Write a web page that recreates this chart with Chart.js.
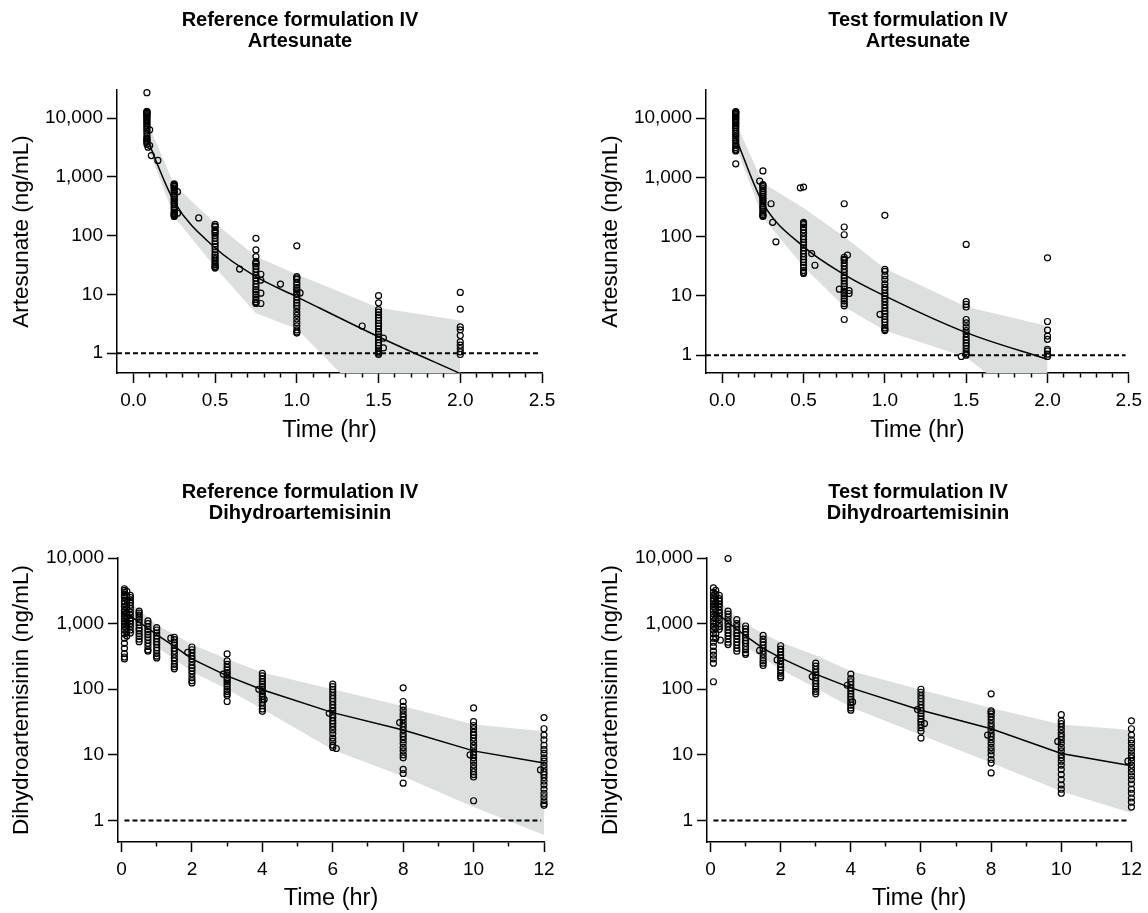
<!DOCTYPE html>
<html>
<head>
<meta charset="utf-8">
<script src="https://cdn.jsdelivr.net/npm/chart.js@4.4.1/dist/chart.umd.min.js"></script>
<style>
  html, body { margin: 0; padding: 0; background: #fff; overflow: hidden; }
  #page { position: relative; width: 1148px; height: 913px; }
  canvas { position: absolute; }
</style>
</head>
<body>
<div id="page">
  <canvas id="refArt" width="574" height="456" style="left:0;top:0"></canvas>
  <canvas id="testArt" width="559" height="456" style="left:589px;top:0"></canvas>
  <canvas id="refDha" width="574" height="457" style="left:0;top:456px"></canvas>
  <canvas id="testDha" width="559" height="457" style="left:589px;top:456px"></canvas>
</div>
<script>
// ---- tick labels ----
const yTickValues = [1, 10, 100, 1000, 10000];
const yTickLabels = ['1', '10', '100', '1,000', '10,000'];
const artXLabelValues = [0, 0.5, 1, 1.5, 2, 2.5];
const artXLabels = ['0.0', '0.5', '1.0', '1.5', '2.0', '2.5'];
const dhaXLabelValues = [0, 2, 4, 6, 8, 10, 12];
const dhaXLabels = ['0', '2', '4', '6', '8', '10', '12'];

const lloq = 1;

// ---- artesunate: simulated median and 90% prediction band ----
const artTimes = [0.083, 0.25, 0.5, 0.75, 1.0, 1.5, 2.0];
const refArtMedian = [4500, 380, 62, 20, 9.1, 1.9, 0.45];
const refArtUpper = [9000, 730, 162, 44, 22, 5.9, 3.6];
const refArtLower = [3500, 210, 29, 4.8, 2.6, 0.1, 0.03];
const testArtMedian = [4700, 370, 68, 23, 10, 2.4, 0.85];
const testArtUpper = [8500, 810, 305, 100, 29, 6.6, 3.1];
const testArtLower = [3400, 210, 31, 6.6, 2.6, 0.92, 0.08];

// ---- dihydroartemisinin: simulated median and 90% prediction band ----
const dhaTimes = [0.083, 0.25, 0.5, 0.75, 1, 1.5, 2, 3, 4, 6, 8, 10, 12];
const refDhaMedian = [1450, 1300, 1050, 850, 680, 450, 290, 160, 98, 44, 24, 11.5, 7.5];
const refDhaUpper = [2600, 2200, 1600, 1250, 950, 680, 480, 290, 180, 100, 55, 29, 23];
const refDhaLower = [700, 800, 650, 520, 440, 290, 185, 100, 50, 12, 4.7, 1.6, 0.6];
const testDhaMedian = [1500, 1350, 1050, 820, 650, 420, 300, 170, 105, 48, 25, 10.5, 6.8];
const testDhaUpper = [2600, 2300, 1650, 1250, 1000, 700, 520, 330, 190, 98, 52, 29, 24];
const testDhaLower = [800, 850, 700, 560, 450, 300, 200, 104, 53, 20, 7.6, 2.8, 1.3];

// ---- observed concentrations: [time, [values]] ----
const refArtObs = [
  [0.083, [27000, 13000, 12800, 12500, 12200, 12000, 11500, 11000, 10500, 10000, 9500, 9000, 8500, 8000, 7500, 7000, 6500, 6000, 5500, 5000, 4600, 4400, 4200, 4000, 3900, 3600]],
  [0.09, [3200]], [0.1, [3400, 6300]], [0.11, [2300]], [0.15, [1900]],
  [0.25, [760, 740, 720, 700, 680, 640, 600, 560, 520, 480, 450, 420, 390, 360, 340, 310, 290, 270, 250, 240, 235, 225, 220, 212]],
  [0.27, [560, 240]], [0.4, [200]],
  [0.5, [155, 145, 140, 125, 118, 110, 100, 90, 80, 72, 65, 58, 52, 47, 43, 40, 37, 34, 32, 30, 29, 28]],
  [0.65, [27]],
  [0.75, [90, 57, 44, 36, 34, 33, 30, 27, 24, 21, 19, 17, 15, 13.5, 12, 11, 10, 9, 8.2, 7.5, 7.2, 7]],
  [0.78, [22, 17.5, 10.5, 7]],
  [0.9, [15]],
  [1.0, [67, 20, 19, 18, 16, 14.5, 13, 12, 11, 10, 9, 8, 7.2, 6.5, 5.8, 5, 4.4, 3.8, 3.3, 2.9, 2.5, 2.3, 2.2]],
  [1.02, [10.6]],
  [1.4, [2.9]],
  [1.5, [9.5, 7.2, 5.5, 5, 4.5, 4, 3.6, 3.2, 2.9, 2.6, 2.3, 2.1, 1.9, 1.7, 1.5, 1.35, 1.2, 1.1, 1.05, 1.0, 0.95]],
  [1.53, [1.8, 1.23]],
  [2.0, [10.8, 5.6, 2.8, 2.5, 2.0, 1.56, 1.37, 1.2, 1.05, 0.95]]
];

const testArtObs = [
  [0.083, [13000, 12700, 12500, 12000, 11500, 11000, 10500, 10000, 9500, 9000, 8500, 8000, 7500, 7000, 6500, 6000, 5500, 5000, 4600, 4200, 3800, 3500, 3200, 3000, 2900, 2800, 1700]],
  [0.23, [870]],
  [0.25, [1290, 760, 740, 700, 650, 600, 560, 520, 480, 450, 420, 390, 360, 330, 310, 290, 270, 250, 235, 225, 220]],
  [0.3, [360]], [0.31, [175]], [0.33, [82]],
  [0.48, [670]],
  [0.5, [690, 175, 168, 160, 145, 130, 115, 100, 90, 80, 72, 65, 58, 52, 46, 41, 37, 33, 30, 27, 25, 24]],
  [0.55, [52]], [0.57, [33]],
  [0.72, [13]],
  [0.75, [360, 146, 108, 45, 42, 40, 36, 32, 28, 25, 22, 20, 18, 16, 14.5, 13, 12, 11, 10, 9, 8.2, 7.4, 6.8, 4.0]],
  [0.77, [49]], [0.78, [12.3, 11]],
  [0.97, [4.9]],
  [1.0, [230, 28, 26, 22, 19, 16, 14, 12.5, 11, 10, 9, 8, 7, 6.2, 5.5, 5, 4.5, 4, 3.6, 3.2, 2.9, 2.7, 2.6]],
  [1.47, [0.95]],
  [1.5, [74, 8.0, 7.2, 6.5, 4.0, 3.5, 3.0, 2.6, 2.3, 2.0, 1.8, 1.6, 1.45, 1.3, 1.15, 1.05, 1.0]],
  [2.0, [44, 3.7, 2.65, 2.1, 1.85, 1.26, 1.18, 1.04, 0.95]]
];

const refDhaObs = [
  [0.083, [3400, 3200, 3000, 2700, 2500, 2200, 2000, 1800, 1600, 1500, 1400, 1300, 1200, 1100, 1000, 900, 800, 700, 600, 500, 420, 350, 310, 290]],
  [0.15, [3100, 2600, 2300, 1900, 1700, 1450, 1250, 1050, 950, 850, 750, 650]],
  [0.25, [2700, 2500, 2300, 2100, 1900, 1700, 1500, 1350, 1200, 1100, 1000, 900, 800, 720]],
  [0.5, [1550, 1450, 1350, 1250, 1150, 1050, 950, 850, 780, 700, 640, 580, 530]],
  [0.75, [1100, 1000, 900, 820, 750, 680, 620, 560, 500, 450, 400, 380]],
  [1.0, [870, 800, 720, 650, 590, 530, 480, 430, 390, 350, 320, 300]],
  [1.4, [600]],
  [1.5, [620, 570, 520, 470, 420, 380, 340, 300, 270, 240, 220, 205]],
  [1.88, [365]],
  [2.0, [440, 400, 360, 320, 290, 260, 230, 210, 190, 170, 150, 135, 125]],
  [2.89, [170]],
  [3.0, [345, 270, 240, 215, 195, 180, 165, 150, 140, 130, 120, 110, 100, 92, 85, 80, 65]],
  [3.9, [100]],
  [4.0, [175, 160, 145, 130, 120, 110, 100, 92, 85, 78, 70, 63, 56, 50, 46]],
  [4.05, [70]],
  [5.9, [43]],
  [6.0, [120, 110, 100, 90, 80, 72, 65, 58, 52, 46, 41, 37, 33, 30, 27, 24, 21, 18, 16, 14, 13]],
  [6.1, [12.5]],
  [7.9, [31]],
  [8.0, [105, 65, 55, 48, 42, 38, 34, 30, 27, 24, 21, 19, 17, 15, 13, 11.5, 10, 9, 6, 5.2, 3.7]],
  [9.9, [10]],
  [10.0, [52, 32, 28, 25, 22, 20, 18, 16, 14, 12.5, 11, 10, 9, 8, 7, 6.2, 5.5, 5, 4.6, 2.0]],
  [11.9, [5.9]],
  [12.0, [37, 25, 20, 17, 14, 12, 10.5, 9, 8, 7, 6.2, 5.5, 5, 4.5, 4, 3.5, 3, 2.6, 2.3, 2, 1.8, 1.7]]
];

const testDhaObs = [
  [0.083, [3500, 3000, 2700, 2400, 2200, 2000, 1800, 1600, 1400, 1250, 1100, 1000, 900, 800, 700, 600, 520, 450, 380, 330, 290, 250, 130]],
  [0.15, [3200, 2800, 2500, 2100, 1900, 1650, 1400, 1200, 1000, 850, 700, 600]],
  [0.25, [2700, 2400, 2200, 2000, 1800, 1600, 1450, 1300, 1150, 1000, 900, 820]],
  [0.28, [560]],
  [0.5, [9800, 1550, 1400, 1250, 1100, 1000, 900, 800, 720, 650, 580, 520, 480]],
  [0.75, [1150, 1000, 900, 800, 720, 650, 580, 520, 470, 420, 380]],
  [1.0, [920, 830, 750, 680, 610, 550, 500, 450, 400, 360, 340]],
  [1.4, [390]],
  [1.5, [660, 580, 520, 470, 420, 380, 340, 300, 270, 250, 230]],
  [1.9, [280]],
  [2.0, [460, 410, 370, 330, 300, 270, 240, 215, 195, 175, 160, 150]],
  [2.9, [156]],
  [3.0, [250, 225, 200, 180, 165, 150, 135, 122, 110, 100, 92, 85]],
  [3.9, [115]],
  [4.0, [170, 145, 130, 118, 105, 95, 85, 77, 70, 63, 57, 52, 48]],
  [4.05, [64]],
  [5.9, [49]],
  [6.0, [100, 90, 80, 72, 65, 58, 52, 47, 43, 39, 35, 32, 29, 26, 23, 18]],
  [6.1, [30]],
  [7.9, [20]],
  [8.0, [85, 47, 45, 42, 38, 34, 30, 27, 24, 21, 19, 17, 15, 13, 11.5, 10, 8.5, 7.5, 5.3]],
  [9.9, [16]],
  [10.0, [41, 33, 30, 27, 24, 21, 19, 17, 15, 13, 11.5, 10, 9, 8, 7, 6, 5, 4.2, 3.5, 3, 2.6]],
  [11.9, [8]],
  [12.0, [33, 25, 20, 17, 15, 13, 11.5, 10, 9, 8, 7, 6.2, 5.5, 4.8, 4.2, 3.6, 3, 2.6, 2.2, 1.9, 1.6]]
];

const FONT = "'Liberation Sans', Arial, Helvetica, sans-serif";
Chart.defaults.font.family = FONT;
Chart.defaults.color = '#000';

// two-line bold panel title
const panelTitle = {
  id: 'panelTitle',
  afterDraw(chart, args, opts) {
    const ctx = chart.ctx;
    ctx.save();
    ctx.font = 'bold 20px ' + FONT;
    ctx.fillStyle = '#000';
    ctx.textAlign = 'center';
    ctx.textBaseline = 'middle';
    opts.lines.forEach((line, i) => ctx.fillText(line, opts.x, opts.y + i * 21));
    ctx.restore();
  }
};

function toPoints(times, values) {
  return times.map((t, i) => ({ x: t, y: values[i] }));
}

function makePanel(id, p) {
  // minor ticks every step, labels only on the label values
  const xTicks = [];
  for (let v = 0; v <= p.xMax + 1e-9; v += p.xStep) xTicks.push(Math.round(v * 1000) / 1000);
  const isMajor = v => p.xLabelValues.some(m => Math.abs(m - v) < 1e-6);

  const obsPoints = p.obs.flatMap(([t, vals]) => vals.map(v => ({ x: t, y: v })));

  new Chart(document.getElementById(id), {
    type: 'line',
    data: {
      datasets: [
        {
          data: obsPoints, showLine: false, order: 0, clip: 8,
          pointRadius: 3, pointBorderWidth: 1.2,
          pointBorderColor: '#000', pointBackgroundColor: 'rgba(0,0,0,0)'
        },
        {
          data: toPoints(p.times, p.median), order: 1,
          borderColor: '#000', borderWidth: 1.5, pointRadius: 0,
          cubicInterpolationMode: p.smooth ? 'monotone' : 'default', tension: 0
        },
        {
          data: [{ x: p.lloqFrom, y: lloq }, { x: p.lloqTo, y: lloq }], order: 2,
          borderColor: '#000', borderWidth: 2, borderDash: [5, 3], pointRadius: 0
        },
        {
          data: toPoints(p.times, p.upper), order: 3, fill: '+1',
          backgroundColor: '#dddede', borderColor: 'rgba(0,0,0,0)', borderWidth: 0, pointRadius: 0
        },
        {
          data: toPoints(p.times, p.lower), order: 4, fill: false,
          borderColor: 'rgba(0,0,0,0)', borderWidth: 0, pointRadius: 0
        }
      ]
    },
    options: {
      responsive: false,
      animation: false,
      events: [],
      layout: { padding: { left: 0, right: p.padRight, top: p.padTop, bottom: p.padBottom } },
      plugins: {
        legend: { display: false },
        tooltip: { enabled: false },
        panelTitle: { lines: p.title, x: p.titleX, y: p.titleY }
      },
      scales: {
        x: {
          type: 'linear', min: p.xMin, max: p.xMax,
          afterBuildTicks: s => { s.ticks = xTicks.map(v => ({ value: v })); },
          afterFit: s => { s.height = p.xAxisHeight; },
          ticks: {
            autoSkip: false, maxRotation: 0, padding: 6, font: { size: 19 },
            callback: v => {
              const i = p.xLabelValues.findIndex(m => Math.abs(m - v) < 1e-6);
              return i >= 0 ? p.xLabels[i] : '';
            }
          },
          grid: {
            drawOnChartArea: false, tickLength: 10, tickColor: '#000', tickWidth: 1.5,
            tickBorderDash: ctx => (ctx.tick && isMajor(ctx.tick.value)) ? [] : [4, 30]
          },
          border: { color: '#000', width: 1.5 },
          title: { display: true, text: 'Time (hr)', font: { size: 23.5 }, padding: { top: 0, bottom: 0 } }
        },
        y: {
          type: 'logarithmic', min: p.yMin, max: p.yMax,
          afterBuildTicks: s => { s.ticks = yTickValues.map(v => ({ value: v })); },
          afterFit: s => { s.width = p.yAxisWidth; },
          ticks: {
            padding: 4, font: { size: 19 },
            callback: v => {
              const i = yTickValues.indexOf(v);
              return i >= 0 ? yTickLabels[i] : '';
            }
          },
          grid: { drawOnChartArea: false, tickLength: 10, tickColor: '#000', tickWidth: 1.5 },
          border: { color: '#000', width: 1.5 },
          title: { display: true, text: p.yTitle, font: { size: 22.5 }, padding: { top: 8.5, bottom: 0 } }
        }
      }
    },
    plugins: [panelTitle]
  });
}

const artAxis = {
  times: artTimes, xMin: -0.1, xMax: 2.5, xStep: 0.1, smooth: true,
  xLabelValues: artXLabelValues, xLabels: artXLabels,
  lloqFrom: -0.1, lloqTo: 2.48, yMax: 30000, yTitle: 'Artesunate (ng/mL)',
  padTop: 90, padBottom: 11, xAxisHeight: 72, yAxisWidth: 117, titleY: 20
};
const dhaAxis = {
  times: dhaTimes, xMin: -0.1, xMax: 12, xStep: 1, smooth: false,
  xLabelValues: dhaXLabelValues, xLabels: dhaXLabels,
  lloqFrom: 0.083, lloqTo: 11.92, yMax: 10000, yTitle: 'Dihydroartemisinin (ng/mL)',
  padTop: 102, padBottom: 0, xAxisHeight: 71, yAxisWidth: 118, titleY: 36
};

makePanel('refArt', Object.assign({}, artAxis, {
  obs: refArtObs, median: refArtMedian, upper: refArtUpper, lower: refArtLower,
  yMin: 0.46, padRight: 32, titleX: 300,
  title: ['Reference formulation IV', 'Artesunate']
}));
makePanel('testArt', Object.assign({}, artAxis, {
  obs: testArtObs, median: testArtMedian, upper: testArtUpper, lower: testArtLower,
  yMin: 0.5, padRight: 16, titleX: 329,
  title: ['Test formulation IV', 'Artesunate']
}));
makePanel('refDha', Object.assign({}, dhaAxis, {
  obs: refDhaObs, median: refDhaMedian, upper: refDhaUpper, lower: refDhaLower,
  yMin: 0.47, padRight: 30, titleX: 300,
  title: ['Reference formulation IV', 'Dihydroartemisinin']
}));
makePanel('testDha', Object.assign({}, dhaAxis, {
  obs: testDhaObs, median: testDhaMedian, upper: testDhaUpper, lower: testDhaLower,
  yMin: 0.47, padRight: 16, titleX: 329,
  title: ['Test formulation IV', 'Dihydroartemisinin']
}));
</script>
</body>
</html>
